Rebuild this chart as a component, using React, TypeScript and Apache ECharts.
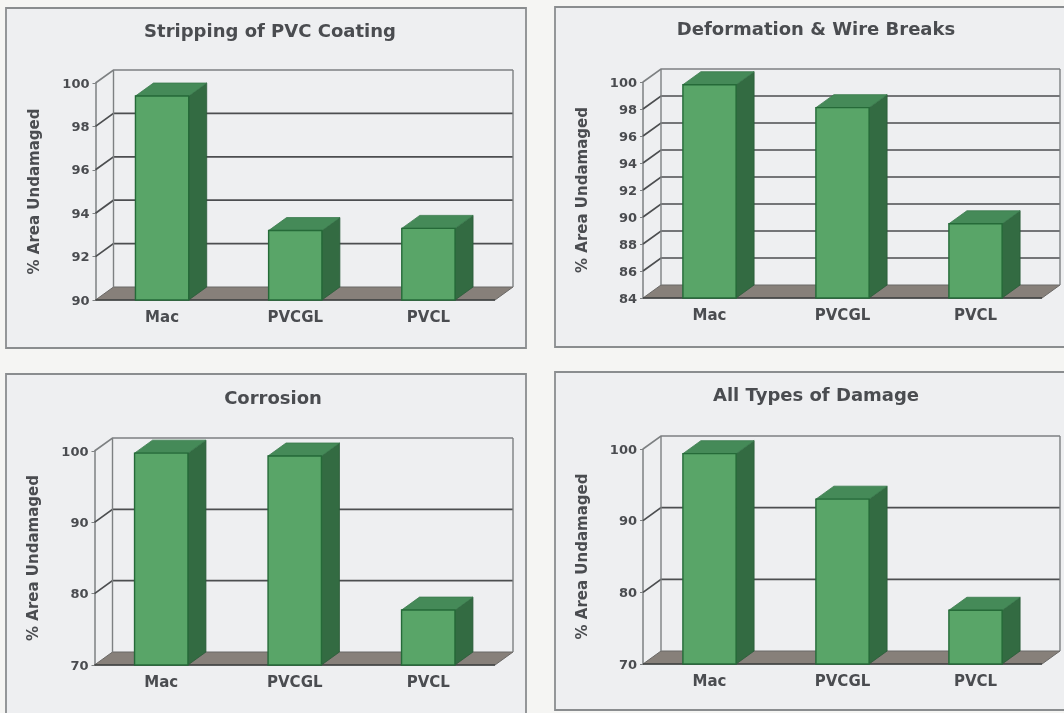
import React, { useEffect, useRef } from "react";
import * as echarts from "echarts";

const categories = ["Mac", "PVCGL", "PVCL"];
const titles = ["Stripping of PVC Coating", "Deformation & Wire Breaks", "Corrosion", "All Types of Damage"];
const yName = "% Area Undamaged";

const strippingValues = [99.4, 93.2, 93.3];
const deformationValues = [99.8, 98.1, 89.5];
const corrosionValues = [99.7, 99.3, 77.7];
const allDamageValues = [99.35, 93.0, 77.5];
const seriesValues = [strippingValues, deformationValues, corrosionValues, allDamageValues];

const strippingTicks = [90, 92, 94, 96, 98, 100];
const deformationTicks = [84, 86, 88, 90, 92, 94, 96, 98, 100];
const corrosionTicks = [70, 80, 90, 100];
const allDamageTicks = [70, 80, 90, 100];
const tickLists = [strippingTicks, deformationTicks, corrosionTicks, allDamageTicks];

const yMin = [90, 84, 70, 70];
const yMax = [100, 100, 100, 100];
const yStep = [2, 2, 10, 10];

// layout: front plane of every panel, and the panel frame
const plots = [
  { l: 95.5, r: 495, t: 83, b: 300 },
  { l: 643, r: 1042, t: 82, b: 298 },
  { l: 94.5, r: 495, t: 451, b: 665 },
  { l: 643, r: 1042, t: 449, b: 664 },
];
const frames = [
  { x: 6, y: 8, w: 520, h: 340 },
  { x: 555, y: 7, w: 520, h: 340 },
  { x: 6, y: 374, w: 520, h: 342 },
  { x: 555, y: 372, w: 520, h: 338 },
];
const titlePos = [
  { x: 265, y: 16 },
  { x: 811, y: 14 },
  { x: 268, y: 383 },
  { x: 811, y: 380 },
];
const DX = 18;
const DY = -13;
const FONT = "'DejaVu Sans', sans-serif";
const TEXT = "#4a4c50";

function wallItem(tickIsMin: (v: number) => boolean, tickIsMax: (v: number) => boolean) {
  return (params: any, api: any) => {
    const cs = params.coordSys;
    const v = api.value(1);
    const y = api.coord([0, v])[1];
    const xl = cs.x;
    const xr = cs.x + cs.width;
    const stroke = "#4c4e50";
    const children: any[] = [];
    if (tickIsMin(v)) {
      children.push({
        type: "polygon",
        shape: { points: [[xl, y], [xr, y], [xr + DX, y + DY], [xl + DX, y + DY]] },
        style: { fill: "#87807a", stroke: "#6a6866", lineWidth: 1 },
      });
      children.push({ type: "line", shape: { x1: xl, y1: y, x2: xr, y2: y }, style: { stroke: "#3e4040", lineWidth: 1.6 } });
    } else {
      children.push({
        type: "polyline",
        shape: { points: [[xl, y], [xl + DX, y + DY], [xr + DX, y + DY]] },
        style: { fill: "none", stroke: tickIsMax(v) ? "#7d8082" : stroke, lineWidth: tickIsMax(v) ? 1.6 : 1.7 },
      });
    }
    if (tickIsMax(v)) {
      const yBottom = cs.y + cs.height + DY;
      children.push({ type: "line", shape: { x1: xl + DX, y1: y + DY, x2: xl + DX, y2: yBottom }, style: { stroke: "#7d8082", lineWidth: 1.4 } });
      children.push({ type: "line", shape: { x1: xr + DX, y1: y + DY, x2: xr + DX, y2: yBottom }, style: { stroke: "#7d8082", lineWidth: 1.4 } });
    }
    return { type: "group", children };
  };
}

function barItem(min: number) {
  return (_params: any, api: any) => {
    const idx = api.value(0);
    const top = api.coord([idx, api.value(1)]);
    const bottom = api.coord([idx, min]);
    const band = api.size([1, 0])[0];
    const w = band * 0.4;
    const x0 = top[0] - w / 2;
    const x1 = top[0] + w / 2;
    const yt = top[1];
    const yb = bottom[1];
    return {
      type: "group",
      children: [
        {
          type: "polygon",
          shape: { points: [[x1, yt], [x1 + DX, yt + DY], [x1 + DX, yb + DY], [x1, yb]] },
          style: { fill: "#336b42", stroke: "#2a5a38", lineWidth: 0.8 },
        },
        {
          type: "polygon",
          shape: { points: [[x0, yt], [x0 + DX, yt + DY], [x1 + DX, yt + DY], [x1, yt]] },
          style: { fill: "#458a58", stroke: "#3a7a4c", lineWidth: 0.8 },
        },
        {
          type: "rect",
          shape: { x: x0, y: yt, width: w, height: yb - yt },
          style: { fill: "#59a568", stroke: "#256a38", lineWidth: 1.4 },
        },
      ],
    };
  };
}

export default function App() {
  const ref = useRef<HTMLDivElement>(null);
  useEffect(() => {
    document.body.style.margin = "0";
    document.body.style.background = "#f5f5f3";
    const chart = echarts.init(ref.current!, undefined, { renderer: "svg" });
    const grid: any[] = [];
    const xAxis: any[] = [];
    const yAxis: any[] = [];
    const series: any[] = [];
    const title: any[] = [];
    plots.forEach((p, i) => {
      grid.push({ left: p.l, top: p.t, width: p.r - p.l, height: p.b - p.t });
      xAxis.push({
        gridIndex: i,
        type: "category",
        data: categories,
        axisLine: { show: false },
        axisTick: { show: false },
        axisLabel: { color: TEXT, fontFamily: FONT, fontWeight: "bold", fontSize: 15, margin: 9 },
      });
      yAxis.push({
        gridIndex: i,
        type: "value",
        min: yMin[i],
        max: yMax[i],
        interval: yStep[i],
        name: yName,
        nameLocation: "middle",
        nameGap: 54,
        nameRotate: 90,
        nameTextStyle: { color: TEXT, fontFamily: FONT, fontWeight: "bold", fontSize: 15 },
        splitLine: { show: false },
        axisLine: { show: true, lineStyle: { color: "#7d8082", width: 1.5 } },
        axisTick: { show: true, length: 3, lineStyle: { color: "#7d8082" } },
        axisLabel: { color: TEXT, fontFamily: FONT, fontWeight: "bold", fontSize: 13, margin: 6 },
      });
      title.push({
        text: titles[i],
        left: titlePos[i].x,
        top: titlePos[i].y,
        textAlign: "center",
        textStyle: { color: TEXT, fontFamily: FONT, fontWeight: "bold", fontSize: 18 },
      });
      series.push({
        type: "custom",
        xAxisIndex: i,
        yAxisIndex: i,
        z: 2,
        silent: true,
        encode: { x: 0, y: 1 },
        data: tickLists[i].map((t) => [0, t]),
        renderItem: wallItem((v) => v === yMin[i], (v) => v === yMax[i]),
      });
      series.push({
        type: "custom",
        name: titles[i],
        xAxisIndex: i,
        yAxisIndex: i,
        z: 3,
        silent: true,
        encode: { x: 0, y: 1 },
        data: seriesValues[i].map((v, k) => [k, v]),
        renderItem: barItem(yMin[i]),
      });
    });
    chart.setOption({
      animation: false,
      backgroundColor: "#f5f5f3",
      title,
      grid,
      xAxis,
      yAxis,
      series,
      graphic: frames.map((f) => ({
        type: "rect",
        z: -10,
        shape: { x: f.x, y: f.y, width: f.w, height: f.h },
        style: { fill: "#eeeff1", stroke: "#8a8d8f", lineWidth: 1.8 },
      })),
    });
    return () => chart.dispose();
  }, []);
  return (
    <div
      ref={ref}
      style={{ position: "fixed", left: 0, top: 0, width: 1064, height: 713, filter: "blur(0.7px)" }}
    />
  );
}
